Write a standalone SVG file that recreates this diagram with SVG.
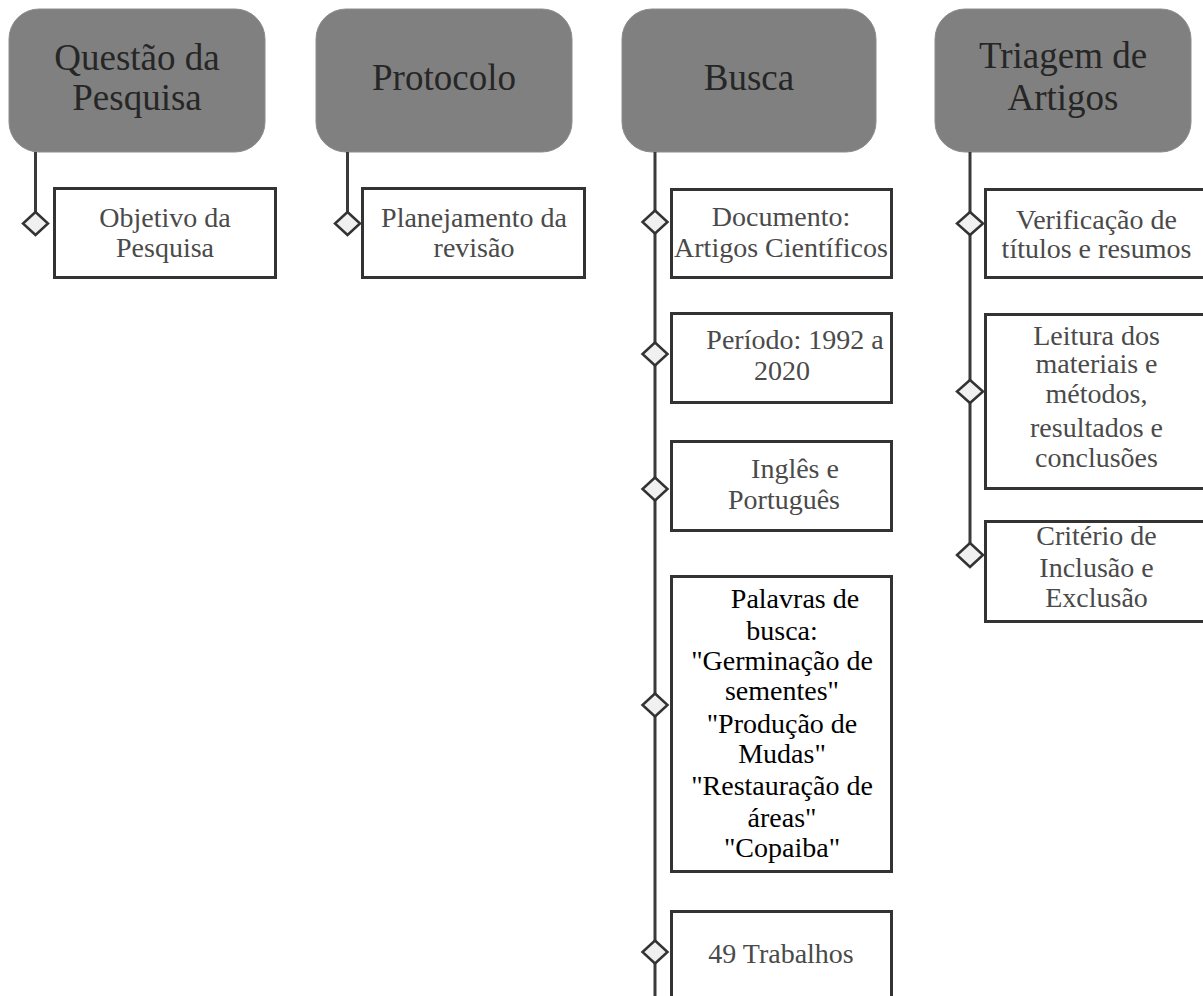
<svg xmlns="http://www.w3.org/2000/svg" width="1203" height="996" viewBox="0 0 1203 996">
<style>
.hdr rect{fill:#808080;stroke:#8c8c8c;stroke-width:1}
.hdr text{font-family:'Liberation Serif','Times New Roman',serif;font-size:37px;fill:#262626;text-anchor:middle}
.box rect{fill:#ffffff;stroke:#333333;stroke-width:3}
.box text{font-family:'Liberation Serif','Times New Roman',serif;font-size:28px;fill:#4a4a4a;text-anchor:middle}
.box text.blk{fill:#000000}
.conn line{stroke:#3a3a3a;stroke-width:3}
.dia{fill:#f0f0f0;stroke:#333333;stroke-width:2.5}
</style>
<rect width="1203" height="996" fill="#ffffff"/>

<g id="h1" class="hdr"><rect x="9" y="9" width="256" height="143" rx="30"/><text x="137" y="70">Questão da</text><text x="137" y="110">Pesquisa</text></g>
<g id="h2" class="hdr"><rect x="316" y="9" width="256" height="143" rx="30"/><text x="444" y="90">Protocolo</text></g>
<g id="h3" class="hdr"><rect x="622" y="9" width="254" height="143" rx="30"/><text x="749" y="90">Busca</text></g>
<g id="h4" class="hdr"><rect x="935" y="9" width="256" height="143" rx="30"/><text x="1063" y="68">Triagem de</text><text x="1063" y="110">Artigos</text></g>

<g id="connectors" class="conn">
<line x1="35.5" y1="152" x2="35.5" y2="212"/>
<line x1="347.5" y1="152" x2="347.5" y2="212"/>
<line x1="655" y1="152" x2="655" y2="996"/>
<line x1="970" y1="152" x2="970" y2="544"/>
<polygon class="dia" points="35.5,212 48,223.5 35.5,235 23,223.5"/>
<polygon class="dia" points="347.5,212 360,223.5 347.5,235 335,223.5"/>
<polygon class="dia" points="655,210.5 667.5,222 655,233.5 642.5,222"/>
<polygon class="dia" points="655,342.5 667.5,354 655,365.5 642.5,354"/>
<polygon class="dia" points="655,477.5 667.5,489 655,500.5 642.5,489"/>
<polygon class="dia" points="655,693.5 667.5,705 655,716.5 642.5,705"/>
<polygon class="dia" points="655,940.5 667.5,952 655,963.5 642.5,952"/>
<polygon class="dia" points="970,212 983,223.5 970,235 957,223.5"/>
<polygon class="dia" points="970,380 983,391.5 970,403 957,391.5"/>
<polygon class="dia" points="970,543 983,555 970,567 957,555"/>
</g>

<g id="n1" class="box"><rect x="54.5" y="188.5" width="221" height="89"/><text x="165" y="227">Objetivo da</text><text x="165" y="257">Pesquisa</text></g>
<g id="n2" class="box"><rect x="362.5" y="188.5" width="222" height="89"/><text x="474" y="227">Planejamento da</text><text x="474" y="257">revisão</text></g>
<g id="n3" class="box"><rect x="671.5" y="189.5" width="220" height="88"/><text x="781" y="226">Documento:</text><text x="781" y="257">Artigos Científicos</text></g>
<g id="n4" class="box"><rect x="671.5" y="313.5" width="220" height="89"/><text x="795" y="349">Período: 1992 a</text><text x="782" y="380">2020</text></g>
<g id="n5" class="box"><rect x="671.5" y="441.5" width="220" height="89"/><text x="795" y="478">Inglês e</text><text x="784" y="509">Português</text></g>
<g id="n6" class="box"><rect x="671.5" y="576.5" width="220" height="295"/>
<text class="blk" x="795" y="608">Palavras de</text>
<text class="blk" x="782" y="640">busca:</text>
<text class="blk" x="782" y="670">"Germinação de</text>
<text class="blk" x="782" y="700">sementes"</text>
<text class="blk" x="782" y="733">"Produção de</text>
<text class="blk" x="782" y="763">Mudas"</text>
<text class="blk" x="782" y="795">"Restauração de</text>
<text class="blk" x="782" y="827">áreas"</text>
<text class="blk" x="782" y="857">"Copaiba"</text>
</g>
<g id="n7" class="box"><rect x="671.5" y="911.5" width="220" height="120"/><text x="781" y="963">49 Trabalhos</text></g>
<g id="n8" class="box"><rect x="985.5" y="189.5" width="222" height="88"/><text x="1096.5" y="229">Verificação de</text><text x="1096.5" y="258">títulos e resumos</text></g>
<g id="n9" class="box"><rect x="985.5" y="314.5" width="222" height="174"/><text x="1096.5" y="345">Leitura dos</text><text x="1096.5" y="373">materiais e</text><text x="1096.5" y="403">métodos,</text><text x="1096.5" y="437">resultados e</text><text x="1096.5" y="467">conclusões</text></g>
<g id="n10" class="box"><rect x="985.5" y="521.5" width="222" height="100"/><text x="1096.5" y="545">Critério de</text><text x="1096.5" y="577">Inclusão e</text><text x="1096.5" y="607">Exclusão</text></g>
</svg>
